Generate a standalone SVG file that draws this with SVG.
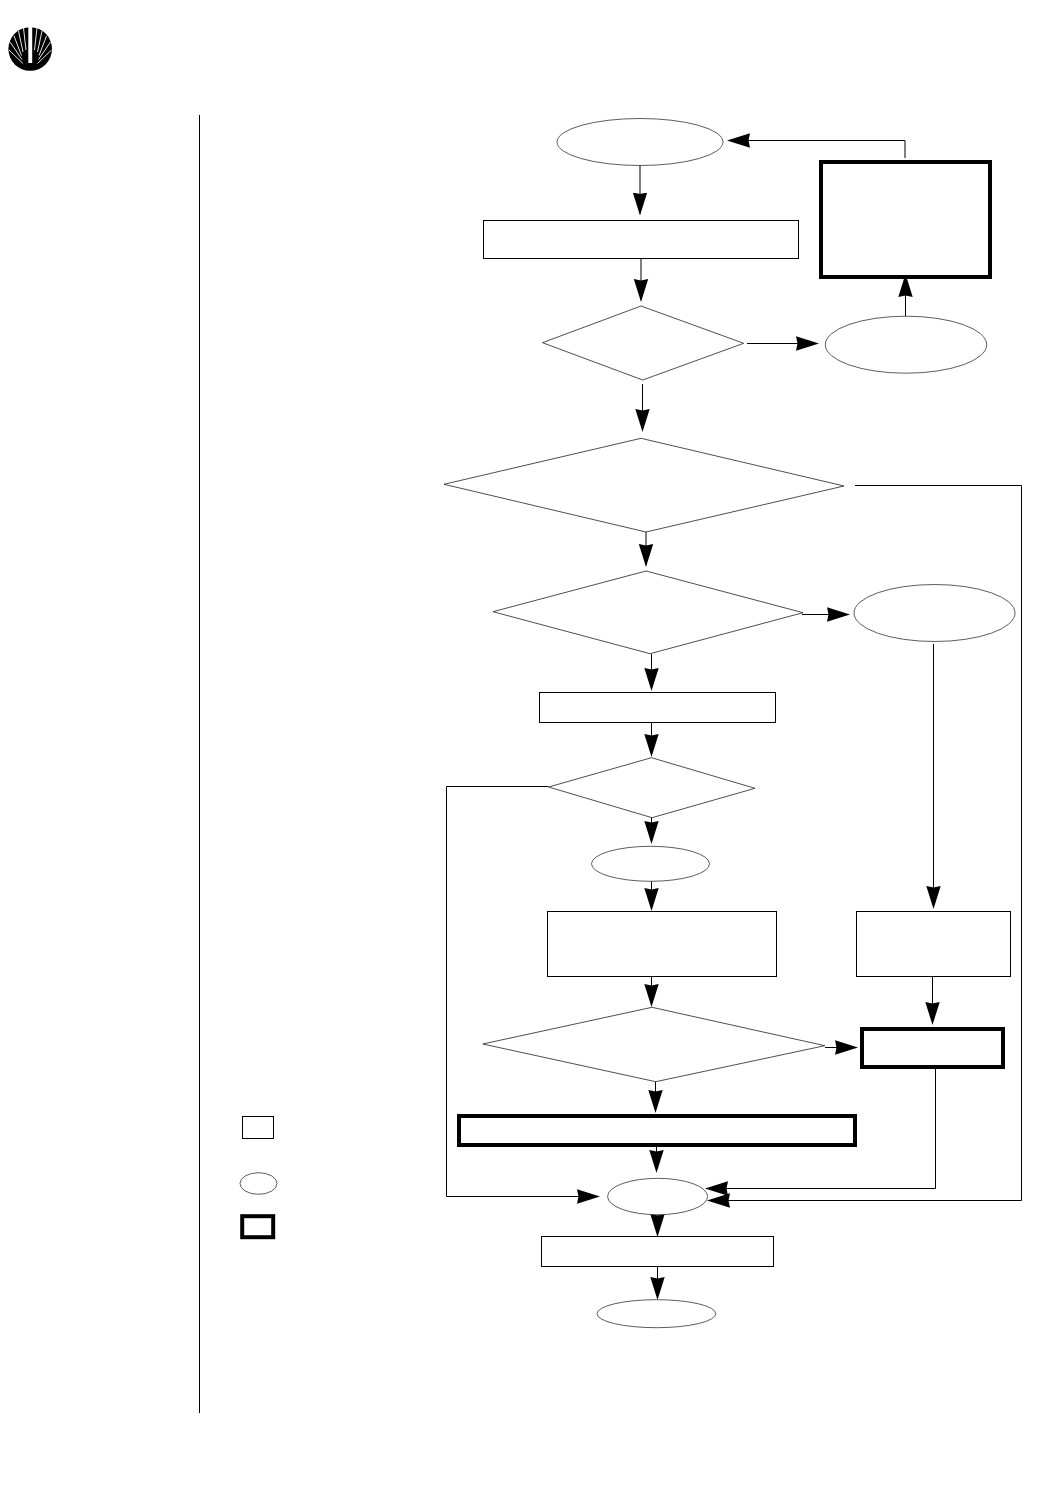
<svg xmlns="http://www.w3.org/2000/svg" width="1045" height="1491" viewBox="0 0 1045 1491">
<style>
.r{fill:#fff;stroke:#000;stroke-width:1}
.t{fill:#fff;stroke:#000;stroke-width:4}
.e{fill:#fff;stroke:#333;stroke-width:.8}
.d{fill:#fff;stroke:#222;stroke-width:.8}
.c{fill:none;stroke:#000;stroke-width:1}
.a{marker-end:url(#h)}
.y{fill:none;stroke:#fff;stroke-width:.9}
</style>
<defs>
<marker id="h" markerUnits="userSpaceOnUse" markerWidth="26" markerHeight="16" refX="21" refY="8" orient="auto">
<path d="M0,0.800 L23,8 L0,15.200 L1.500,8 Z" fill="#000"/>
</marker>
</defs>
<rect width="1045" height="1491" fill="#fff"/>
<g id="logo">
<circle cx="30.2" cy="49" r="21.8" fill="#000"/>
<rect x="28.300" y="26" width="3.900" height="37" fill="#fff"/>
<g class="y">
<line x1="23" y1="63.500" x2="9" y2="50"/>
<line x1="22" y1="59.500" x2="10" y2="42"/>
<line x1="21.500" y1="55.500" x2="14" y2="36"/>
<line x1="23" y1="52" x2="18.500" y2="31"/>
<line x1="26" y1="50" x2="23.500" y2="28"/>
<line x1="37.500" y1="63.500" x2="51.500" y2="50"/>
<line x1="38.500" y1="59.500" x2="50.500" y2="42"/>
<line x1="39" y1="55.500" x2="46.500" y2="36"/>
<line x1="37.500" y1="52" x2="42" y2="31"/>
<line x1="34.500" y1="50" x2="37" y2="28"/>
</g>
</g>
<line id="margin-rule" x1="199.500" y1="115" x2="199.500" y2="1413" class="c"/>
<g id="connectors">
<path class="c a" d="M640,165V213.500"/>
<path class="c a" d="M641,258.500V300"/>
<path class="c a" d="M747,343.500H817"/>
<path class="c a" d="M905.500,316V276"/>
<path class="c a" d="M905,158V140.500H729"/>
<path class="c a" d="M642.500,384V430"/>
<path class="c a" d="M646,532V565"/>
<path class="c a" d="M802,614.500H848"/>
<path class="c a" d="M651.500,654V689"/>
<path class="c a" d="M651.500,722V755"/>
<path class="c a" d="M651.500,817V842"/>
<path class="c a" d="M651.500,881V909"/>
<path class="c a" d="M651.500,976V1005"/>
<path class="c a" d="M933.500,644V907"/>
<path class="c a" d="M932.500,976V1023"/>
<path class="c a" d="M825,1047.500H856"/>
<path class="c a" d="M655.500,1081V1111"/>
<path class="c a" d="M656.500,1146V1171"/>
<path class="c a" d="M657.500,1215V1235"/>
<path class="c a" d="M657.500,1266V1298"/>
<path class="c a" d="M548.500,786.500H446.500V1196.500H598"/>
<path class="c a" d="M935.500,1068V1188.500H707"/>
<path class="c a" d="M855,485.500H1021.500V1200.500H709"/>
</g>
<g id="start"><ellipse class="e" cx="640" cy="142" rx="83" ry="23.500"/></g>
<g id="box1"><rect class="r" x="483.500" y="220.500" width="315" height="38"/></g>
<g id="dec1"><polygon class="d" points="641,306 743.700,343.300 642.700,380 542.500,342.700"/></g>
<g id="term1"><ellipse class="e" cx="906" cy="344.700" rx="80.700" ry="28.500"/></g>
<g id="box2"><rect class="t" x="821" y="162" width="169" height="115"/></g>
<g id="dec2"><polygon class="d" points="641,438.300 844,486 646,532 444,484.300"/></g>
<g id="dec3"><polygon class="d" points="646,571 803,612.700 650,653.700 493,611.700"/></g>
<g id="term2"><ellipse class="e" cx="934.500" cy="613" rx="80.500" ry="28.500"/></g>
<g id="box3"><rect class="r" x="539.500" y="692.500" width="236" height="30"/></g>
<g id="dec4"><polygon class="d" points="651.500,757.700 755,788.300 652,817.700 548.600,787"/></g>
<g id="term3"><ellipse class="e" cx="650.500" cy="863.800" rx="59" ry="17.500"/></g>
<g id="box4"><rect class="r" x="547.500" y="911.500" width="229" height="65"/></g>
<g id="box5"><rect class="r" x="856.500" y="911.500" width="154" height="65"/></g>
<g id="dec5"><polygon class="d" points="652,1007.300 824.800,1045.700 655.700,1081.700 482.800,1044"/></g>
<g id="box6"><rect class="t" x="862" y="1029" width="141" height="38"/></g>
<g id="box7"><rect class="t" x="459" y="1116" width="396" height="29"/></g>
<g id="term4"><ellipse class="e" cx="657.600" cy="1196.500" rx="50" ry="18.200"/></g>
<g id="box8"><rect class="r" x="541.500" y="1236.500" width="232" height="30"/></g>
<g id="end"><ellipse class="e" cx="656.400" cy="1313.700" rx="59.400" ry="14"/></g>
<g id="legend-box"><rect class="r" x="242.500" y="1116.500" width="31" height="22"/></g>
<g id="legend-ellipse"><ellipse class="e" cx="258.500" cy="1183.500" rx="18.500" ry="10.800"/></g>
<g id="legend-thick"><rect class="t" x="242.200" y="1216.200" width="31" height="21"/></g>
</svg>
